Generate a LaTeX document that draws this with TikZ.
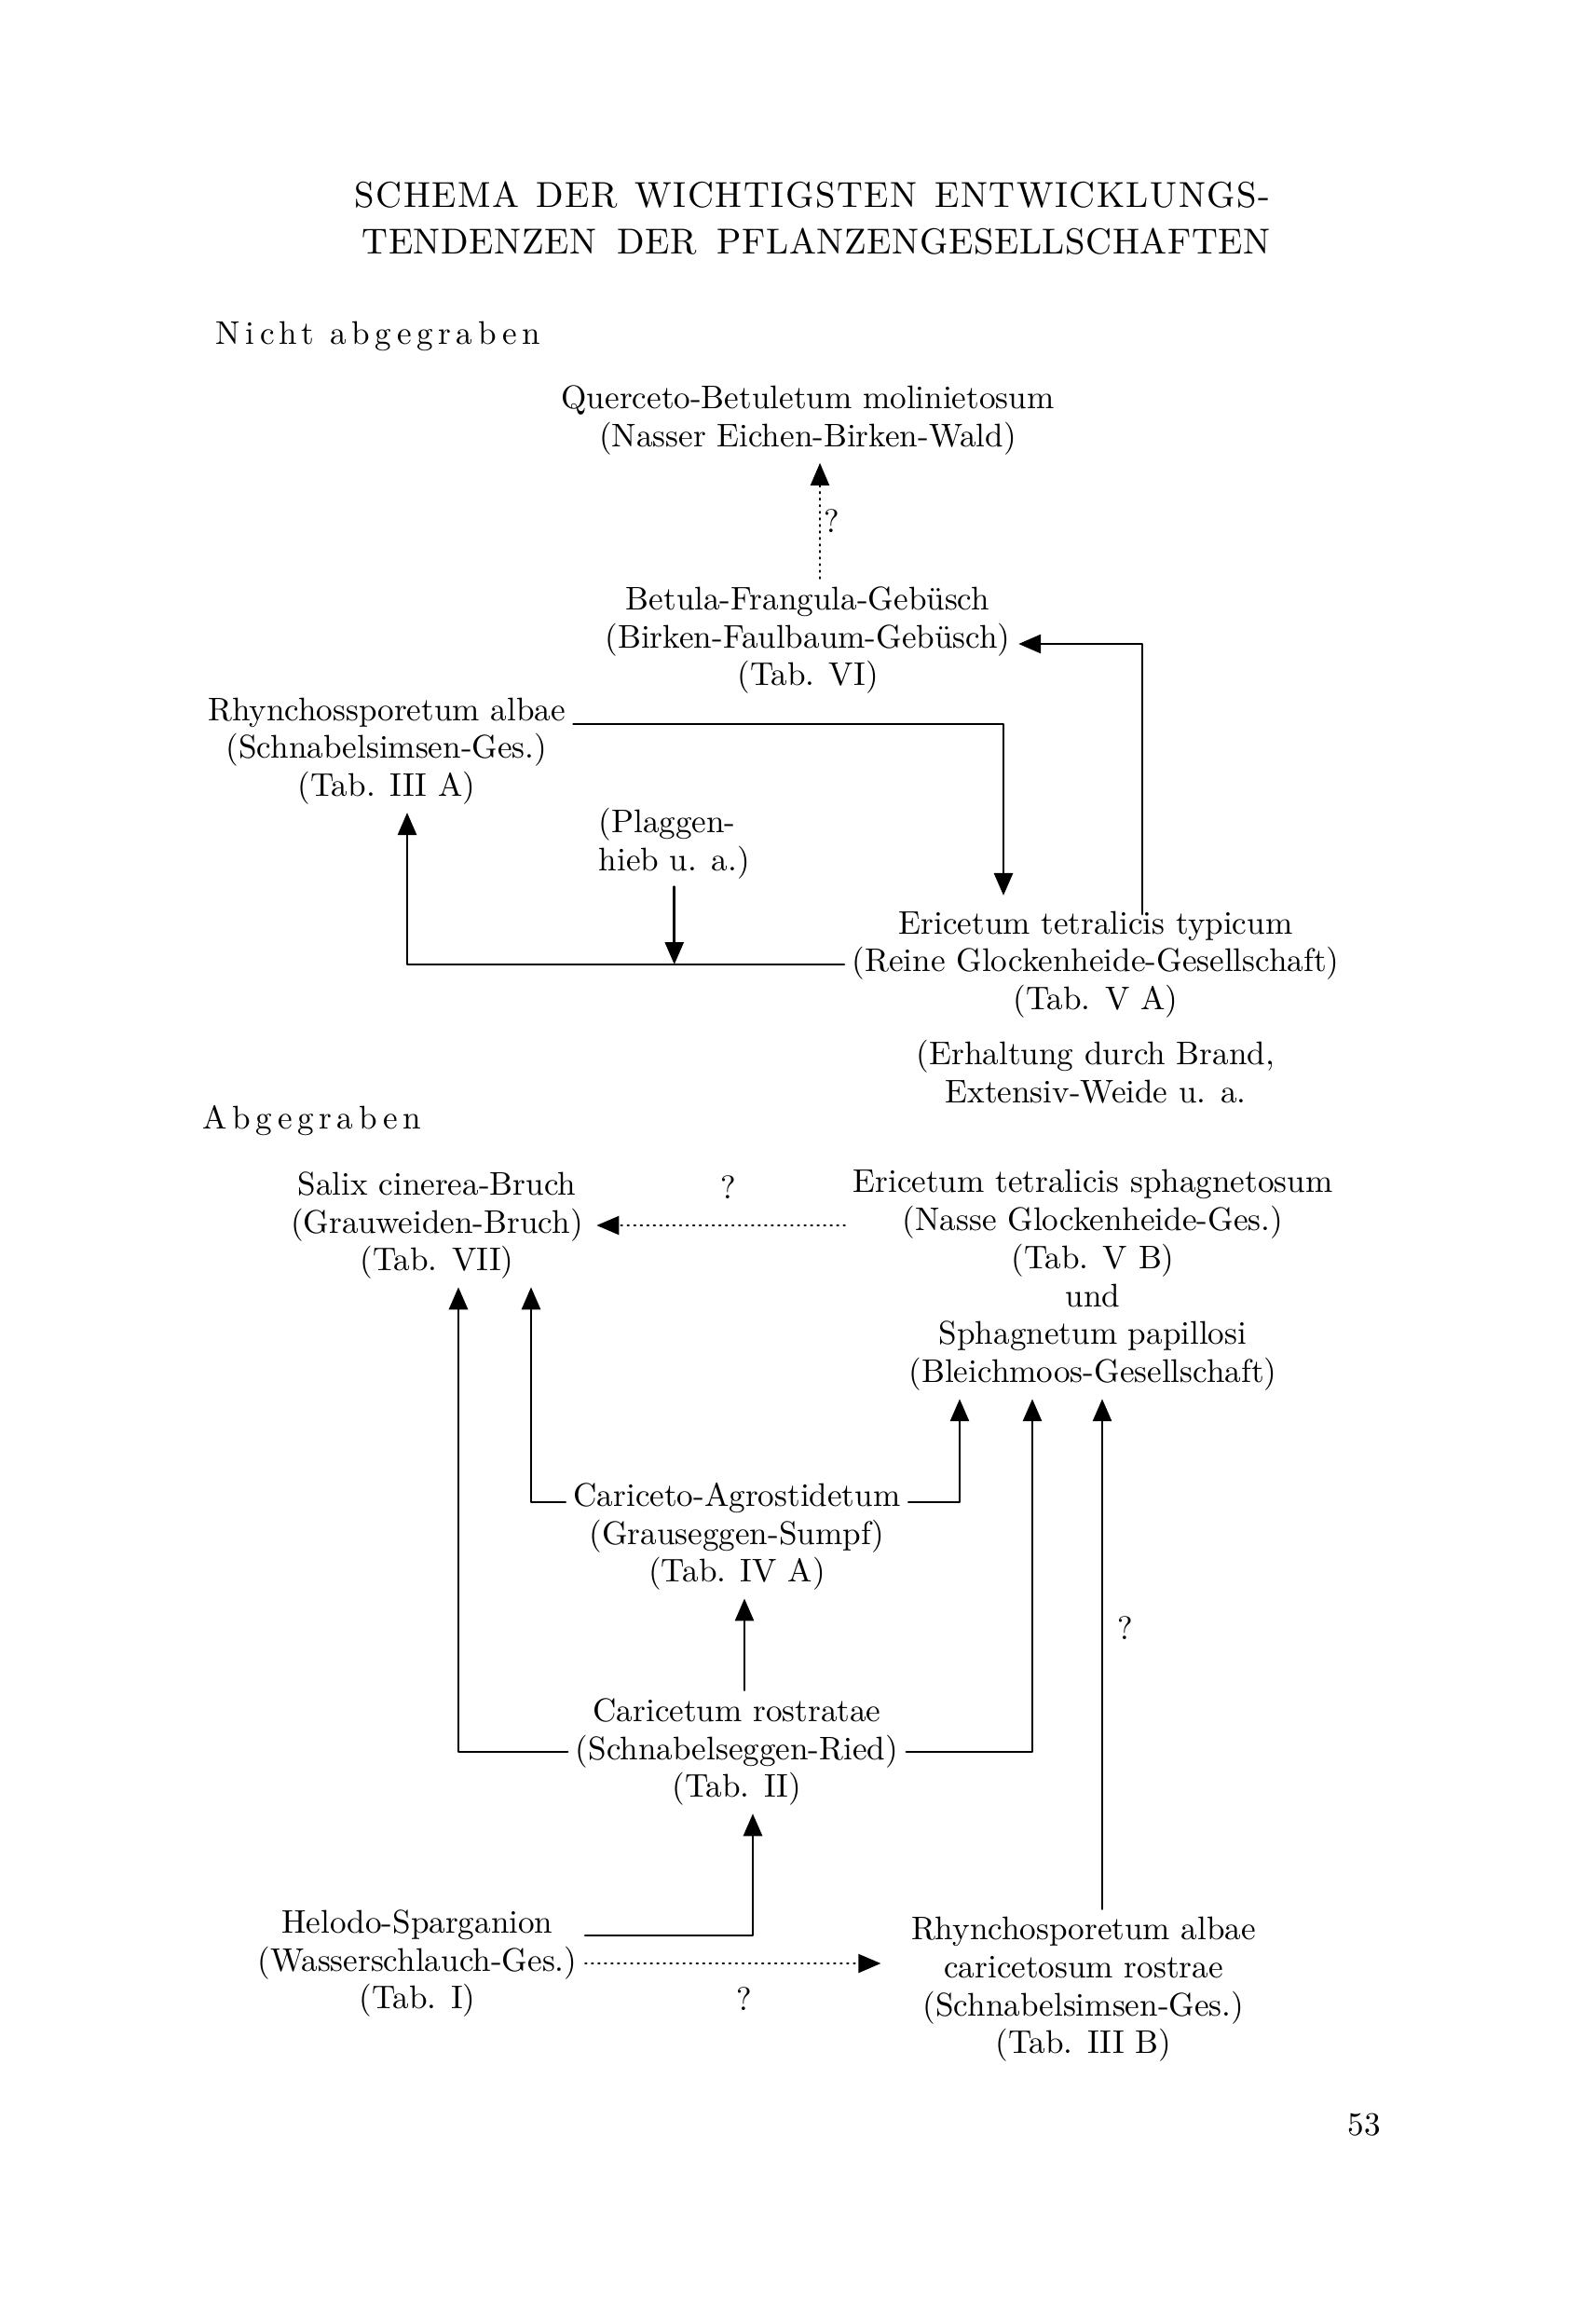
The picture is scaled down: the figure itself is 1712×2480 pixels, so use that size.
\documentclass[tikz,border=0pt]{standalone}
\usepackage{fontspec}
\newfontfamily\sperrfont{lmroman10-regular.otf}[LetterSpace=16]
\newfontfamily\titlefont{lmroman10-regular.otf}[LetterSpace=4]
\usetikzlibrary{arrows.meta,calc}
\begin{document}
\begin{tikzpicture}[x=0.1mm,y=-0.1mm,line join=round,line cap=round,
  >={Triangle[length=2.4mm,width=2mm]},
  font=\fontsize{10}{11.6}\selectfont,
  every node/.style={inner sep=0.8mm,align=center},
  arr/.style={->,line width=0.8pt},
  arrdot/.style={->,line width=0.6pt,dash pattern=on 0.4pt off 1.6pt},
  spaced/.style={inner sep=0pt,font=\fontsize{10}{11.6}\sperrfont}]
\useasboundingbox (0,0) rectangle (1712,2480);
\node (title1) at (872,209) {\fontsize{11}{12}\titlefont\makebox[98.3mm][s]{SCHEMA DER WICHTIGSTEN ENTWICKLUNGS-}};
\node (title2) at (876,259) {\fontsize{11}{12}\titlefont\addfontfeature{LetterSpace=1.5}\makebox[97.5mm][s]{TENDENZEN DER PFLANZENGESELLSCHAFTEN}};
\node[spaced,anchor=west] (nicht) at (231,361) {Nicht abgegraben};
\node[spaced,anchor=west] (abgr) at (217,1203) {Abgegraben};
\node (querc) at (867,451) {Querceto-Betuletum molinietosum\\(Nasser Eichen-Birken-Wald)};
\node (betula) at (867,687) {Betula-Frangula-Gebüsch\\(Birken-Faulbaum-Gebüsch)\\(Tab. VI)};
\node (rhA) at (415,806) {Rhynchossporetum albae\\(Schnabelsimsen-Ges.)\\(Tab. III A)};
\node[align=left,anchor=west] (plag) at (634,905) {(Plaggen-\\hieb u. a.)};
\node (ertyp) at (1176,1035) {Ericetum tetralicis typicum\\(Reine Glockenheide-Gesellschaft)\\(Tab. V A)};
\node (erhalt) at (1176,1150) {(Erhaltung durch Brand,\\Extensiv-Weide u. a.};
\node (salix) at (469,1315) {Salix cinerea-Bruch\\(Grauweiden-Bruch)\\(Tab. VII)};
\node (ersph) at (1173,1374) {Ericetum tetralicis sphagnetosum\\(Nasse Glockenheide-Ges.)\\(Tab. V B)\\und\\Sphagnetum papillosi\\(Bleichmoos-Gesellschaft)};
\node (cagr) at (791,1649) {Cariceto-Agrostidetum\\(Grauseggen-Sumpf)\\(Tab. IV A)};
\node (crost) at (791,1880) {Caricetum rostratae\\(Schnabelseggen-Ried)\\(Tab. II)};
\node (helo) at (448,2107) {Helodo-Sparganion\\(Wasserschlauch-Ges.)\\(Tab. I)};
\node (rhB) at (1163,2135) {Rhynchosporetum albae\\caricetosum rostrae\\(Schnabelsimsen-Ges.)\\(Tab. III B)};
\node (page) at (1464,2280) {53};
\coordinate (k1) at (880,0);
\coordinate (k2) at (1077,777);
\coordinate (k3) at (1226,691);
\coordinate (k4) at (437,0);
\coordinate (k5) at (1030,1612);
\coordinate (k6) at (1108,0);
\coordinate (k7) at (1183,0);
\coordinate (k8) at (492,0);
\coordinate (k9) at (570,0);
\coordinate (k10) at (799,0);
\coordinate (k11) at (808,2077);
\draw[arrdot] (betula.north -| k1) -- (querc.south -| k1) node[midway,right,inner sep=1pt] {?};
\draw[arr,shorten >=0.8mm] (rhA.east |- k2) -| (ertyp.north -| k2);
\draw[arr,shorten <=-1.2mm] (ertyp.north -| k3) |- (betula.east |- k3);
\draw[arr] (ertyp.west) -| (rhA.south -| k4);
\draw[arr] (plag.south) -- (plag.south |- ertyp.west);
\draw[arrdot,shorten >=0.6mm] (ersph.west |- salix.east) -- (salix.east) node[pos=.46,above=2.7mm,inner sep=0pt] {?};
\draw[arr] (cagr.east |- k5) -| (ersph.south -| k5);
\draw[arr] (crost.east) -| (ersph.south -| k6);
\draw[arr] (rhB.north -| k7) -- (ersph.south -| k7) node[pos=.55,right=1.5mm,inner sep=0pt] {?};
\draw[arr] (crost.west) -| (salix.south -| k8);
\draw[arr] (cagr.west |- k5) -| (salix.south -| k9);
\draw[arr] (crost.north -| k10) -- (cagr.south -| k10);
\draw[arr] (helo.east |- k11) -| (crost.south -| k11);
\draw[arrdot,shorten >=2.4mm] (helo.east) -- (rhB.west |- helo.east) node[midway,below=2.5mm,inner sep=0pt] {?};
\end{tikzpicture}
\end{document}
